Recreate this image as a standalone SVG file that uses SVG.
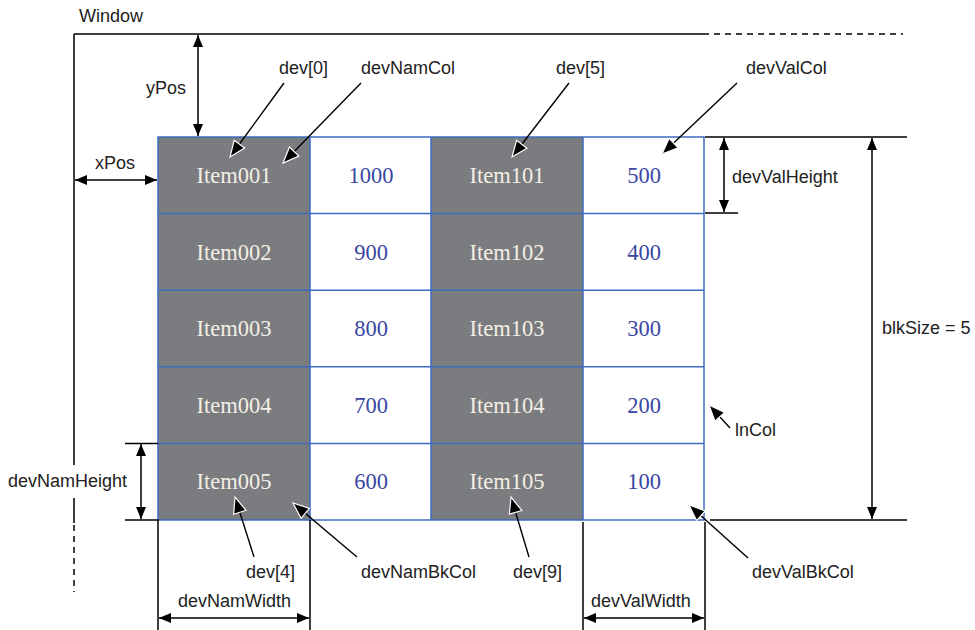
<svg xmlns="http://www.w3.org/2000/svg" width="975" height="630" viewBox="0 0 975 630">
<defs>
<style>
.lbl{font-family:"Liberation Sans",Arial,sans-serif;font-size:18px;fill:#222}
.nm{font-family:"Liberation Serif","Times New Roman",serif;font-size:22.5px;fill:#f3efe4;text-anchor:middle}
.vl{font-family:"Liberation Serif","Times New Roman",serif;font-size:22.5px;fill:#3a46a2;text-anchor:middle}
.ln{stroke:#000;stroke-width:1.5;fill:none}
.dim{stroke:#000;stroke-width:1.5;fill:none;marker-start:url(#ah);marker-end:url(#ah)}
.lead{stroke:#000;stroke-width:1.4;fill:none;marker-end:url(#la)}
.dash{stroke:#000;stroke-width:1.5;fill:none;stroke-dasharray:6 5}
.gc{fill:#7b7c80}
.wc{fill:#fff}
.grid{stroke:#3d6bbf;stroke-width:1.5;fill:none}
</style>
<marker id="ah" viewBox="0 0 12 10" refX="12" refY="5" markerWidth="12" markerHeight="10" markerUnits="userSpaceOnUse" orient="auto-start-reverse"><path d="M0,0 L12,5 L0,10 z" fill="#000"/></marker>
<marker id="la" viewBox="-1 -1 19 15" refX="16" refY="6.5" markerWidth="19" markerHeight="15" markerUnits="userSpaceOnUse" orient="auto"><path d="M0,0 L16,6.5 L0,13 z" fill="#000" stroke="#fff" stroke-width="1.2"/></marker>
</defs>
<rect width="975" height="630" fill="#fff"/>

<g id="window">
<text class="lbl" x="79" y="22">Window</text>
<path class="ln" d="M74,34 H703"/>
<path class="dash" d="M703,34 H903"/>
<path class="ln" d="M74,34 V465 M74,498 V523"/>
<path class="dash" d="M74,525 V592"/>
</g>

<g id="table">
<rect class="gc" x="158" y="137" width="152" height="383"/>
<rect class="wc" x="310" y="137" width="121" height="383"/>
<rect class="gc" x="431" y="137" width="152" height="383"/>
<rect class="wc" x="583" y="137" width="121" height="383"/>
<path class="grid" d="M158,137 H704 V520 H158 Z M310,137 V520 M431,137 V520 M583,137 V520 M158,213.6 H704 M158,290.2 H704 M158,366.8 H704 M158,443.4 H704"/>
<text class="nm" x="234" y="183">Item001</text>
<text class="nm" x="234" y="259.6">Item002</text>
<text class="nm" x="234" y="336.2">Item003</text>
<text class="nm" x="234" y="412.8">Item004</text>
<text class="nm" x="234" y="489.4">Item005</text>
<text class="vl" x="371" y="183">1000</text>
<text class="vl" x="371" y="259.6">900</text>
<text class="vl" x="371" y="336.2">800</text>
<text class="vl" x="371" y="412.8">700</text>
<text class="vl" x="371" y="489.4">600</text>
<text class="nm" x="507" y="183">Item101</text>
<text class="nm" x="507" y="259.6">Item102</text>
<text class="nm" x="507" y="336.2">Item103</text>
<text class="nm" x="507" y="412.8">Item104</text>
<text class="nm" x="507" y="489.4">Item105</text>
<text class="vl" x="644" y="183">500</text>
<text class="vl" x="644" y="259.6">400</text>
<text class="vl" x="644" y="336.2">300</text>
<text class="vl" x="644" y="412.8">200</text>
<text class="vl" x="644" y="489.4">100</text>
</g>

<g id="labels">
<text class="lbl" x="146" y="94">yPos</text>
<text class="lbl" x="95" y="169">xPos</text>
<text class="lbl" x="279" y="74">dev[0]</text>
<text class="lbl" x="361" y="74">devNamCol</text>
<text class="lbl" x="556" y="74">dev[5]</text>
<text class="lbl" x="746" y="74">devValCol</text>
<text class="lbl" x="732" y="183">devValHeight</text>
<text class="lbl" x="882" y="334">blkSize = 5</text>
<text class="lbl" x="735" y="436">lnCol</text>
<text class="lbl" x="8" y="487">devNamHeight</text>
<text class="lbl" x="246" y="578">dev[4]</text>
<text class="lbl" x="361" y="578">devNamBkCol</text>
<text class="lbl" x="513" y="578">dev[9]</text>
<text class="lbl" x="752" y="578">devValBkCol</text>
<text class="lbl" x="178" y="607">devNamWidth</text>
<text class="lbl" x="591" y="607">devValWidth</text>
</g>

<g id="connectors">
<path class="dim" d="M198,35 V136"/>
<path class="dim" d="M75,180 H157"/>
<path class="ln" d="M705,137 H907 M705,213 H738 M710,520 H907"/>
<path class="dim" d="M724,138 V212"/>
<path class="dim" d="M872,138 V519"/>
<path class="ln" d="M125,443.4 H158 M125,520 H158 V630 M310,520 V630 M583,522 V630 M705,522 V630"/>
<path class="dim" d="M141,444 V519"/>
<path class="dim" d="M159,618 H309"/>
<path class="dim" d="M584,618 H704"/>
<path class="lead" d="M284,83 L230,157"/>
<path class="lead" d="M361,83 L283,163"/>
<path class="lead" d="M569,83 L512,157"/>
<path class="lead" d="M737,83 L662,154"/>
<path class="lead" d="M730,428 L709,405"/>
<path class="lead" d="M254,557 L235,497"/>
<path class="lead" d="M357,557 L293,503"/>
<path class="lead" d="M529,557 L511,497"/>
<path class="lead" d="M748,558 L689,505"/>
</g>
</svg>
